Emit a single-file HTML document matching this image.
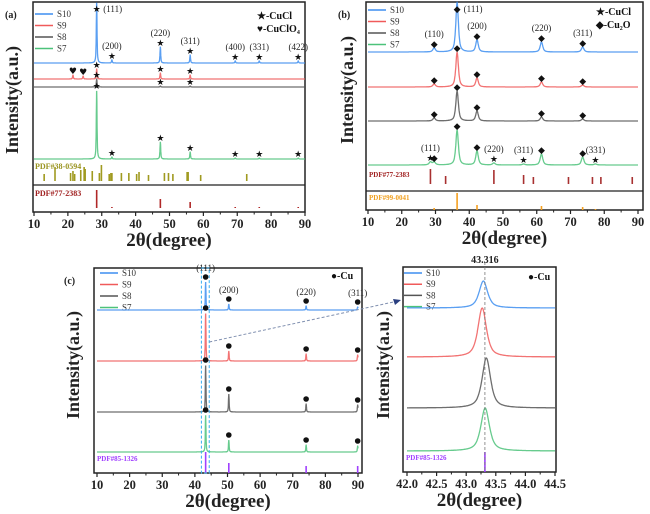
<!DOCTYPE html>
<html><head><meta charset="utf-8"><style>
html,body{margin:0;padding:0;background:#fff;}
svg{display:block;font-family:"Liberation Serif",serif;}
.tk{font-size:12.5px;font-weight:bold;fill:#222;text-anchor:middle;}
.ttl{font-size:19px;font-weight:bold;fill:#222;text-anchor:middle;}
.yl{font-size:18px;font-weight:bold;fill:#222;text-anchor:middle;}
.lg{font-size:9px;fill:#333;}
.hkl{font-size:9px;fill:#222;text-anchor:middle;}
.mk{font-family:"DejaVu Sans",sans-serif;font-size:9px;fill:#111;text-anchor:middle;}
</style></head><body>
<svg id="fig" width="650" height="514" viewBox="0 0 650 514"></svg>
<script>
// ---------- DATA ----------
const seriesNames=['S10','S9','S8','S7'];
const seriesColors=['#3d8ef0','#f05a5a','#555555','#4cc27a'];
// panel a
const aPeaks=[21.5,24.5,28.5,33.0,47.3,56.1,69.4,76.5,88.0];
const aOffsets=[149,133,125,53];
const aHeights=[[0,0,61,3,16,8,2,2,2],[4,3,10,0,6,4,0,0,0],[0,0,8,0,1,1,0,0,0],[0,0,69,2,17,7,1,1,1]];
const aMarks=[[null,null,'★','★','★','★','★','★','★'],['♥','♥','★',null,'★','★',null,null,null],[null,null,'★',null,'★','★',null,null,null],[null,null,'★','★','★','★','★','★','★']];
const aHkl=[[null,null,'(111)','(200)','(220)','(311)','(400)','(331)','(422)'],[],[],[]];
const aRefOlive=[13,16.2,20.8,21.5,22,23.8,24.8,25.1,27.2,29.3,29.9,32.2,32.7,33,35.8,38,40.3,41,43.8,48.5,49.7,51,55.2,55.5,59.2,72.8];
const aRefOliveH=[7,14,8,10,7,11,14,12,10,8,16,7,8,8,8,8,7,9,6,8,8,7,9,9,6,7];
const aRefRed=[28.5,33,47.3,56.1,69.4,76.5,88];
const aRefRedH=[18,1,9,6,1,1,1];
// panel b
const bPeaks=[28.5,29.6,36.4,42.3,47.3,56.1,61.4,73.6,77.4];
const bOffsets=[158,123,89,45];
const bHeights=[[0,4,50,12,0,0,10,5,0],[0,3,35,9,0,0,5,2,0],[0,3,30,10,0,0,4,2,0],[3,3,35,14,2,1,11,8,1]];
const bMarks=[[null,'◆','◆','◆',null,null,'◆','◆',null],[null,'◆','◆','◆',null,null,'◆','◆',null],[null,'◆','◆','◆',null,null,'◆','◆',null],['★','◆','◆','◆','★','★','◆','◆','★']];
const bHkl=[[null,'(110)','(111)','(200)',null,null,'(220)','(311)',null],[],[],['(111)',null,null,null,'(220)','(311)',null,null,'(331)']];
const bRefRed=[28.5,33,47.3,56.1,59,69.4,76.5,79,88.3];
const bRefRedH=[15,8,14,9,7,7,7,7,7];
const bRefOrange=[29.6,36.4,42.3,61.4,73.6,77.4];
const bRefOrangeH=[2,17,5,4,3,1];
// panel c
const cPeaks=[43.3,50.4,74.1,89.9];
const cOffsets=[163,112,61,21];
const cHeights=[[28,6,4,3],[48,10,7,6],[47,18,8,7],[37,12,7,6]];
const cMarks=[['●','●','●','●'],['●','●','●','●'],['●','●','●','●'],['●','●','●','●']];
const cHkl=[['(111)','(200)','(220)','(311)'],[],[],[]];
const cRef=[43.3,50.4,74.1,89.9];
const cRefH=[21,10,7,7];
// panel d
const dCenters=[43.29,43.27,43.34,43.32];
const dOffsets=[164,115,64,21];
const dHeights=[27,49,50,43];
const dRef=[43.316];
const dRefH=[20];

// ---------- HELPERS ----------
const NS='http://www.w3.org/2000/svg';
const svg=document.getElementById('fig');
function el(tag,attrs,parent,txt){const e=document.createElementNS(NS,tag);for(const k in attrs)e.setAttribute(k,attrs[k]);if(txt!==undefined)e.textContent=txt;(parent||svg).appendChild(e);return e;}
function lor(x,c,w){const d=(x-c)/w;return 0.7/(1+d*d)+0.3*Math.exp(-d*d*0.69);}

function makePanel(cfg){
  const g=el('g',{});
  
  
  const xs=v=>cfg.L+(v-cfg.xmin)/(cfg.xmax-cfg.xmin)*(cfg.XR-cfg.XL)+(cfg.XL-cfg.L);
  const ys=v=>cfg.Y0-v;
  cfg.xs=xs;cfg.ys=ys;cfg.g=g;
  const fr=el('rect',{x:cfg.L,y:cfg.T,width:cfg.R-cfg.L,height:cfg.B-cfg.T,fill:'none',stroke:'#222','stroke-width':1.5},g);
  
  if(cfg.div){const d=el('line',{x1:cfg.L,x2:cfg.R,y1:cfg.div,y2:cfg.div,stroke:'#222','stroke-width':1.2},g);}
  cfg.ticks.forEach((t,i)=>{
    const x=xs(t);
    el('line',{x1:x,x2:x,y1:cfg.B,y2:cfg.B+4,stroke:'#222','stroke-width':1.2},g);
    const tl=el('text',{x:x,y:cfg.B+16,class:'tk'},g,cfg.tickLabels[i]);
    
  });
  cfg.minor.forEach(t=>{const x=xs(t);el('line',{x1:x,x2:x,y1:cfg.B,y2:cfg.B+2.5,stroke:'#222','stroke-width':1},g);});
  const xt=el('text',{x:(cfg.L+cfg.R)/2,y:cfg.B+34,class:'ttl'},g,'2θ(degree)');
  
  const yt=el('text',{x:cfg.ylx,y:cfg.yly+6,class:'yl',transform:`rotate(-90 ${cfg.ylx} ${cfg.yly})`},g,'Intensity(a.u.)');
  
  if(cfg.letter){const lt=el('text',{x:cfg.letter[0],y:cfg.letter[1],'font-size':10,'font-weight':'bold',fill:'#222'},g,cfg.letter[2]);}
  seriesNames.forEach((n,i)=>{
    const y=cfg.leg[1]+i*cfg.leg[2];
    const lg=el('g',{},g);
    
    el('line',{x1:cfg.leg[0],x2:cfg.leg[0]+18,y1:y,y2:y,stroke:seriesColors[i],'stroke-width':1.5},lg);
    el('text',{x:cfg.leg[0]+22,y:y+3,class:'lg'},lg,n);
  });
  return cfg;
}
function trace(cfg,i,fn){
  let pts=[];
  for(let x=cfg.xmin;x<=cfg.xmax+1e-9;x+=cfg.step){pts.push(cfg.xs(x).toFixed(1)+','+cfg.ys(cfg.offs[i]+fn(x)).toFixed(1));}
  const p=el('polyline',{points:pts.join(' '),fill:'none',stroke:seriesColors[i],'stroke-width':1.3,'stroke-opacity':0.85},cfg.g);
  
  
}
function peakTraces(cfg,peaks,heights,w){
  for(let i=seriesNames.length-1;i>=0;i--){
    trace(cfg,i,x=>{let s=0;peaks.forEach((c,k)=>{if(heights[i][k])s+=heights[i][k]*lor(x,c,w);});return s;});
  }
}
function markers(cfg,peaks,heights,marks,hkl){
  marks.forEach((row,i)=>row.forEach((m,k)=>{
    if(!m)return;
    let y=cfg.ys(cfg.offs[i]+heights[i][k])-5;
    if(y<cfg.T+6)y=cfg.T+6;
    const x=cfg.xs(peaks[k]);
    let t;
    if(m==='●'){t=el('circle',{cx:x,cy:y,r:2.8,fill:'#111'},cfg.g);}
    else{t=el('text',{x:x,y:y+4,class:'mk'},cfg.g,m);}
    
    const h=hkl[i]&&hkl[i][k];
    if(h){const dx=(y<=cfg.T+6)?16:0;const ht=el('text',{x:x+dx,y:dx?y+4:y-6,class:'hkl'},cfg.g,h);}
  }));
}
function refBars(cfg,pos,hs,base,color,name){
  pos.forEach((p,k)=>{const x=cfg.xs(p);const b=el('line',{x1:x,x2:x,y1:base,y2:base-hs[k],stroke:color,'stroke-width':1.6},cfg.g);});
}
function label(cfg,x,y,txt,color,size,name,weight){const t=el('text',{x:x,y:y,fill:color,'font-size':size,'font-weight':weight||'bold'},cfg.g,txt);return t;}

// ---------- PANEL A ----------
const A=makePanel({name:'panel-a',L:33,R:305,T:2,B:212,XL:34,XR:305,xmin:10,xmax:90,Y0:212,div:185,step:0.04,
  ticks:[10,20,30,40,50,60,70,80,90],tickLabels:['10','20','30','40','50','60','70','80','90'],minor:[15,25,35,45,55,65,75,85],
  ylx:12,yly:100,letter:[5,18,'(a)'],leg:[35,14,11.5],offs:aOffsets});
peakTraces(A,aPeaks,aHeights,0.13);
markers(A,aPeaks,aHeights,aMarks,aHkl);
refBars(A,aRefOlive,aRefOliveH,181,'#a09a20','pdf-38-0594');
refBars(A,aRefRed,aRefRedH,208,'#b02828','pdf-77-2383');
label(A,35,169,'PDF#38-0594','#9a9420',8,'pdf-38-0594-label');
label(A,35,196,'PDF#77-2383','#a02020',8,'pdf-77-2383-label');
label(A,257,19,'★-CuCl','#111',10,'legend-cucl');
label(A,257,32,'♥-CuClO₄','#111',10,'legend-cuclo4');

// ---------- PANEL B ----------
const Bp=makePanel({name:'panel-b',L:366,R:643,T:2,B:210,XL:368,XR:638,xmin:10,xmax:90,Y0:210,div:191,step:0.1,
  ticks:[10,20,30,40,50,60,70,80,90],tickLabels:['10','20','30','40','50','60','70','80','90'],minor:[15,25,35,45,55,65,75,85],
  ylx:347,yly:90,letter:[338,18,'(b)'],leg:[368,10,11.5],offs:bOffsets});
peakTraces(Bp,bPeaks,bHeights,0.45);
markers(Bp,bPeaks,bHeights,bMarks,bHkl);
refBars(Bp,bRefRed,bRefRedH,184,'#a83030','pdf-77-2383');
refBars(Bp,bRefOrange,bRefOrangeH,210,'#f5a020','pdf-99-0041');
label(Bp,369,177,'PDF#77-2383','#a02020',7,'pdf-77-2383-label');
label(Bp,369,200,'PDF#99-0041','#f0a020',7,'pdf-99-0041-label');
label(Bp,596,15,'★-CuCl','#111',10,'legend-cucl');
label(Bp,596,28,'◆-Cu₂O','#111',10,'legend-cu2o');

// ---------- PANEL C ----------
const C=makePanel({name:'panel-c',L:94,R:362,T:268,B:473,XL:97,XR:358,xmin:10,xmax:90,Y0:473,step:0.04,
  ticks:[10,20,30,40,50,60,70,80,90],tickLabels:['10','20','30','40','50','60','70','80','90'],minor:[15,25,35,45,55,65,75,85],
  ylx:73,yly:365,letter:[64,284,'(c)'],leg:[100,273,11.5],offs:cOffsets});
peakTraces(C,cPeaks,cHeights,0.12);
markers(C,cPeaks,cHeights,cMarks,cHkl);
refBars(C,cRef,cRefH,473,'#a040ff','pdf-85-1326');
label(C,97,461,'PDF#85-1326','#a040ff',7,'pdf-85-1326-label');
label(C,331,279,'●-Cu','#111',10,'legend-cu');
{const r=el('rect',{x:C.xs(42.0),y:268,width:C.xs(44.4)-C.xs(42.0),height:205,fill:'none',stroke:'#38aef0','stroke-width':1,'stroke-dasharray':'3,2'});

const a=el('line',{x1:C.xs(44.4),y1:342,x2:398,y2:301,stroke:'#8090b0','stroke-width':1,'stroke-dasharray':'3,2'});

const h=el('polygon',{points:'401,300 393,299 395,305',fill:'#2a3f80'});}

// ---------- PANEL D ----------
const D=makePanel({name:'panel-d',L:403,R:556,T:267,B:472,XL:407,XR:555,xmin:42.0,xmax:44.5,Y0:472,step:0.005,
  ticks:[42.0,42.5,43.0,43.5,44.0,44.5],tickLabels:['42.0','42.5','43.0','43.5','44.0','44.5'],minor:[42.25,42.75,43.25,43.75,44.25],
  ylx:383,yly:365,leg:[404,273,11.2],offs:dOffsets});
for(let i=seriesNames.length-1;i>=0;i--){trace(D,i,x=>dHeights[i]*lor(x,dCenters[i],0.085));}
refBars(D,dRef,dRefH,472,'#a040ff','pdf-85-1326');
{const x=D.xs(43.316);const l=el('line',{x1:x,x2:x,y1:262,y2:472,stroke:'#777','stroke-width':0.8,'stroke-dasharray':'3,2'});
const t=el('text',{x:x,y:263,'font-size':10,'font-weight':'bold','text-anchor':'middle',fill:'#222'},svg,'43.316');}
label(D,406,460,'PDF#85-1326','#a040ff',7,'pdf-85-1326-label');
label(D,528,280,'●-Cu','#111',10,'legend-cu');
</script>
</body></html>
